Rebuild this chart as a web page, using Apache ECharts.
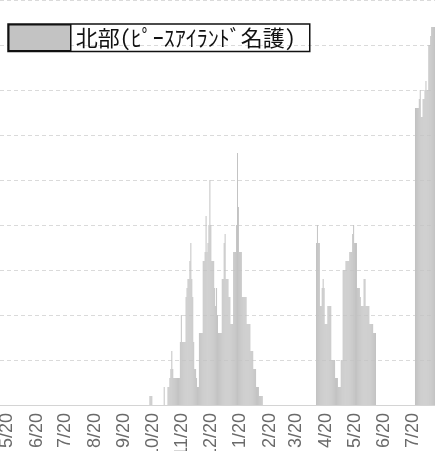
<!DOCTYPE html>
<html>
<head>
<meta charset="utf-8">
<script src="https://cdn.jsdelivr.net/npm/echarts@6/dist/echarts.min.js"></script>
<style>
html,body{margin:0;padding:0;background:#fff;}
#chart{width:435px;height:451px;}
</style>
</head>
<body>
<div id="chart"></div>
<script>
// ---- data (daily counts) ----
const seriesName = '北部(ﾋﾟｰｽｱｲﾗﾝﾄﾞ名護)';
const axisStart = '2020-05-13';
const axisEnd = '2021-08-12';

const octStart = '2020-10-17';
const octValues = [1, 1, 1];

const winterStart = '2020-11-01';
const winterValues = [2, 0, 0, 0,
  2, 2, 3, 4, 6, 4, 3, 3, 3, 3, 3, 3, 3, 7, 10, 7, 7, 7, 7, 12, 13, 14, 14, 16, 18, 14, 12, 7, 4, 4, 3, 2,
  2,
  8, 8, 8, 8, 16, 16, 17, 21, 17, 18, 20, 25, 20, 16, 16, 16, 13, 11, 13, 10, 8, 8, 8, 8, 14,
  14, 18, 19, 14, 14, 14, 12, 12, 9, 9, 9, 17, 17, 17, 20, 28, 22, 17, 17, 17, 12, 12, 12, 12, 12,
  9, 9, 9, 9, 6, 6, 6, 4, 4, 4, 2, 2, 2, 1, 1, 1, 1];

const springStart = '2021-04-10';
const springValues = [18, 20, 18, 18, 11, 11, 13, 14, 13, 9, 9, 9, 11, 11, 11, 11, 5, 5, 5, 5,
  3, 3, 3, 2, 2, 2, 5, 5, 15, 15, 15, 16, 16, 16, 16, 17, 17, 17, 19, 20, 18, 18, 18, 13, 13,
  13, 12, 11, 11, 11, 14, 14, 11, 11, 11, 11, 9, 9, 9, 9, 8, 8, 8];

const summerStart = '2021-07-23';
const summerValues = [33, 33, 33, 33, 34, 35, 32, 32, 34, 34, 35, 36, 35, 35, 40, 40, 41, 42, 42, 42, 42];

const yMax = 45;
const yInterval = 5;

// ---- build category axis and series ----
const DAY = 86400000;
const t0 = Date.parse(axisStart + 'T00:00:00Z');
const t1 = Date.parse(axisEnd + 'T00:00:00Z');
const categories = [];
for (let t = t0; t <= t1; t += DAY) {
  const d = new Date(t);
  categories.push(d.getUTCFullYear() + '-' + (d.getUTCMonth() + 1) + '-' + d.getUTCDate());
}
const values = categories.map(() => 0);
function place(start, arr) {
  const idx = Math.round((Date.parse(start + 'T00:00:00Z') - t0) / DAY);
  arr.forEach((v, k) => { if (idx + k < values.length) values[idx + k] = v; });
}
place(octStart, octValues);
place(winterStart, winterValues);
place(springStart, springValues);
place(summerStart, summerValues);

const chart = echarts.init(document.getElementById('chart'), null, {renderer: 'canvas'});
chart.setOption({
  animation: false,
  backgroundColor: '#ffffff',
  legend: {
    left: 8, top: 24,
    padding: [0, 14, 0, 0],
    borderColor: '#111', borderWidth: 1.5,
    itemWidth: 62, itemHeight: 26, itemGap: 0,
    icon: 'rect',
    itemStyle: {borderColor: '#111', borderWidth: 1.5},
    textStyle: {fontSize: 22, fontFamily: '"Noto Sans Mono CJK JP", "Noto Sans CJK JP", sans-serif', color: '#111', lineHeight: 26},
    data: [seriesName]
  },
  grid: {left: 0, right: 0, top: 0, bottom: 46, containLabel: false, outerBoundsMode: 'none'},
  xAxis: {
    type: 'category',
    data: categories,
    boundaryGap: true,
    axisLine: {show: true, lineStyle: {color: '#d4d4d4', width: 1}},
    axisTick: {show: false},
    axisLabel: {
      rotate: 90,
      margin: 8,
      fontSize: 18,
      fontFamily: 'Liberation Sans',
      color: '#6a6a6a',
      interval: function (index, value) { return value.split('-')[2] === '20'; },
      formatter: function (value) { const p = value.split('-'); return p[1] + '/' + p[2]; }
    },
    splitLine: {show: false}
  },
  yAxis: {
    type: 'value',
    min: 0, max: yMax, interval: yInterval,
    axisLabel: {show: false},
    axisLine: {show: false},
    axisTick: {show: false},
    splitLine: {show: true, lineStyle: {color: '#dadada', type: [4, 3], width: 1}}
  },
  series: [{
    name: seriesName,
    type: 'bar',
    data: values,
    barCategoryGap: '0%',
    barGap: '0%',
    itemStyle: {color: '#c3c3c3'}
  }]
});
</script>
</body>
</html>
